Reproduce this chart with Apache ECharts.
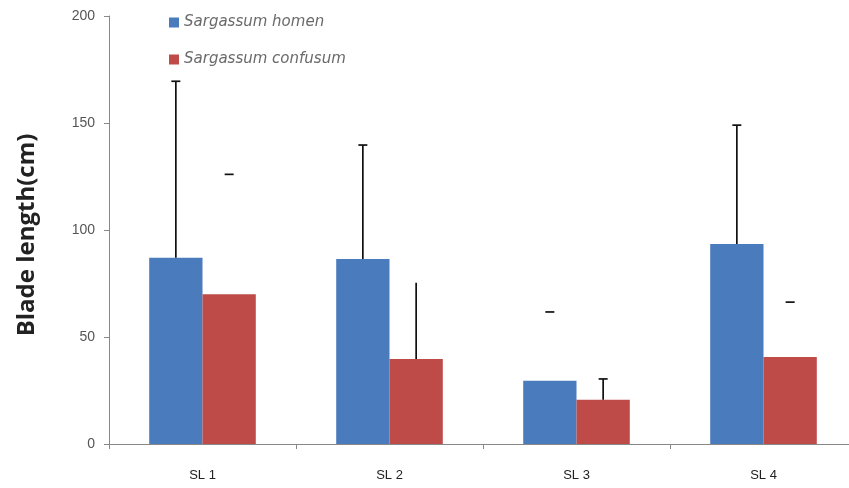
<!DOCTYPE html>
<html>
<head>
<meta charset="utf-8">
<script src="https://cdn.jsdelivr.net/npm/echarts@6/dist/echarts.min.js"></script>
<style>
  html, body { margin: 0; padding: 0; background: #fff; overflow: hidden; }
  /* the original plot runs a few pixels past the right edge of the picture */
  #chart { width: 860px; height: 488px; }
</style>
</head>
<body>
<div id="chart"></div>
<script>
// data
const categories = ['SL 1', 'SL 2', 'SL 3', 'SL 4'];
const seriesNames = ['Sargassum homen', 'Sargassum confusum'];
const homenMean = [87, 86.5, 29.6, 93.4];
const homenUpper = [169.5, 139.7, 61.7, 149];
const confusumMean = [70, 39.7, 20.7, 40.6];
const confusumUpper = [126, 75.4, 30.4, 66.3];
const yTicks = [0, 50, 100, 150, 200];

// error bars whose stem does not show in the original (series, category)
const capOnly = [[0, 2], [1, 0], [1, 3]];
// error bars without a cap
const stemOnly = [[1, 1]];

const colors = ['#4a7bbd', '#be4b48'];
const gapPct = 43;

const chart = echarts.init(document.getElementById('chart'));

function has(list, s, i) {
  return list.some(p => p[0] === s && p[1] === i);
}

// error bar drawn on top of each bar
function errorSeries(sIdx, means, uppers) {
  return {
    type: 'custom',
    name: seriesNames[sIdx] + ' err',
    z: 5,
    clip: false,
    data: means.map((m, i) => [i, m, uppers[i]]),
    renderItem: (params, api) => {
      const i = api.value(0);
      const band = api.size([1, 0])[0];
      const barW = band * (1 - gapPct / 100) / 2;
      const offset = sIdx === 0 ? -barW / 2 : barW / 2;
      const base = api.coord([i, api.value(1)]);
      const top = api.coord([i, api.value(2)]);
      const x = base[0] + offset;
      const style = { stroke: '#111', lineWidth: 1.7 };
      const kids = [];
      if (!has(capOnly, sIdx, i)) {
        kids.push({ type: 'line', shape: { x1: x, y1: base[1], x2: x, y2: top[1] }, style });
      }
      if (!has(stemOnly, sIdx, i)) {
        kids.push({ type: 'line', shape: { x1: x - 4.5, y1: top[1], x2: x + 4.5, y2: top[1] }, style });
      }
      return { type: 'group', children: kids };
    }
  };
}

const option = {
  animation: false,
  legend: {
    orient: 'vertical',
    left: 164,
    top: 10,
    itemGap: 22,
    itemWidth: 10,
    itemHeight: 10,
    icon: 'rect',
    data: seriesNames,
    textStyle: {
      fontStyle: 'italic',
      color: '#6a6a6a',
      fontSize: 15,
      fontFamily: 'DejaVu Sans'
    }
  },
  grid: { left: 109, right: 3, top: 16, bottom: 44 },
  xAxis: {
    type: 'category',
    data: categories,
    axisLine: { lineStyle: { color: '#888', width: 1 } },
    axisTick: { show: true, length: 5, inside: false, lineStyle: { color: '#888' } },
    axisLabel: { color: '#222', fontSize: 13, margin: 25, fontFamily: 'Liberation Sans' }
  },
  yAxis: {
    type: 'value',
    min: yTicks[0],
    max: yTicks[yTicks.length - 1],
    interval: yTicks[1] - yTicks[0],
    name: 'Blade length(cm)',
    nameLocation: 'middle',
    nameRotate: 90,
    nameGap: 70,
    nameTextStyle: {
      fontSize: 24,
      fontWeight: 'bold',
      color: '#222',
      fontFamily: 'Open Sans',
      padding: [0, 10, 0, 0]
    },
    splitLine: { show: false },
    axisLine: { show: true, lineStyle: { color: '#888', width: 1 } },
    axisTick: { show: true, length: 5, lineStyle: { color: '#888' } },
    axisLabel: { color: '#555', fontSize: 14, margin: 14, fontFamily: 'Liberation Sans' }
  },
  series: [
    {
      type: 'bar',
      name: seriesNames[0],
      data: homenMean,
      barGap: '0%',
      barCategoryGap: gapPct + '%',
      itemStyle: { color: colors[0] }
    },
    {
      type: 'bar',
      name: seriesNames[1],
      data: confusumMean,
      barGap: '0%',
      barCategoryGap: gapPct + '%',
      itemStyle: { color: colors[1] }
    },
    errorSeries(0, homenMean, homenUpper),
    errorSeries(1, confusumMean, confusumUpper)
  ]
};

chart.setOption(option);
</script>
</body>
</html>
